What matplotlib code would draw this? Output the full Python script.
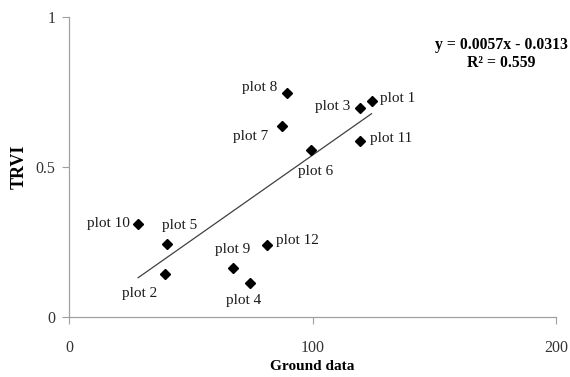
import matplotlib
matplotlib.use("Agg")
import matplotlib.pyplot as plt
import numpy as np

labels = ["plot 1", "plot 2", "plot 3", "plot 4", "plot 5", "plot 6",
          "plot 7", "plot 8", "plot 9", "plot 10", "plot 11", "plot 12"]
ground = [124.2, 39.3, 119.3, 74.2, 40.2, 99.2, 87.3, 89.3, 67.2, 28.3, 119.3, 81.1]
trvi = [0.718, 0.141, 0.696, 0.111, 0.242, 0.554, 0.637, 0.747, 0.161, 0.309, 0.587, 0.239]
slope = 0.0057
intercept = -0.0313
eq_text = "y = 0.0057x - 0.0313\nR² = 0.559"

# label offsets in pixels (dx, dy, ha)
offsets = {
    "plot 1": (8, 3, "left"), "plot 2": (-8, -19, "right"), "plot 3": (-9, 1, "right"),
    "plot 4": (-6, -17, "center"), "plot 5": (-5, 19, "left"), "plot 6": (5, -21, "center"),
    "plot 7": (-13, -11, "right"), "plot 8": (-9, 5, "right"), "plot 9": (0, 19, "center"),
    "plot 10": (-8, 0, "right"), "plot 11": (10, 2, "left"), "plot 12": (9, 4, "left"),
}

plt.rcParams['font.family'] = ['Liberation Serif', 'DejaVu Serif']

fig = plt.figure(figsize=(5.7, 3.77), dpi=100)
ax = fig.add_axes([0.1216, 0.160, 0.8538, 0.7957])

ax.plot(ground, trvi, linestyle="none", marker="D", markersize=5.2,
        color="black", zorder=3)
xs = np.array([min(ground), max(ground)])
ax.plot(xs, slope * xs + intercept, color="#404040", linewidth=0.9, zorder=2)

for lab, x, y in zip(labels, ground, trvi):
    dx, dy, ha = offsets[lab]
    ax.annotate(lab, (x, y), xytext=(dx, dy), textcoords="offset pixels",
                ha=ha, va="center", fontsize=11, color="#1a1a1a")

fig.text(0.879, 0.857, eq_text, ha="center", va="center",
         fontsize=11.3, fontweight="bold", linespacing=1.2)

ax.set_xlim(0, 200)
ax.set_ylim(0, 1)
ax.set_xticks([0, 100, 200])
ax.set_yticks([0, 0.5, 1])
ax.set_xticklabels(["0", "100", "200"])
ax.set_yticklabels(["0", "0.5", "1"])
for s in ["top", "right"]:
    ax.spines[s].set_visible(False)
for s in ["left", "bottom"]:
    ax.spines[s].set_color("#a0a0a0")
    ax.spines[s].set_linewidth(0.9)
ax.tick_params(axis="both", direction="out", color="#a0a0a0", length=5,
               labelsize=11.5, labelcolor="#333333")
ax.tick_params(axis="x", pad=12)
ax.tick_params(axis="y", pad=5)
ax.set_xlabel("Ground data", fontsize=11, fontweight="bold", labelpad=3)
ax.set_ylabel("TRVI", fontsize=13, fontweight="bold", labelpad=6)

fig.savefig("out.png", dpi=100)
